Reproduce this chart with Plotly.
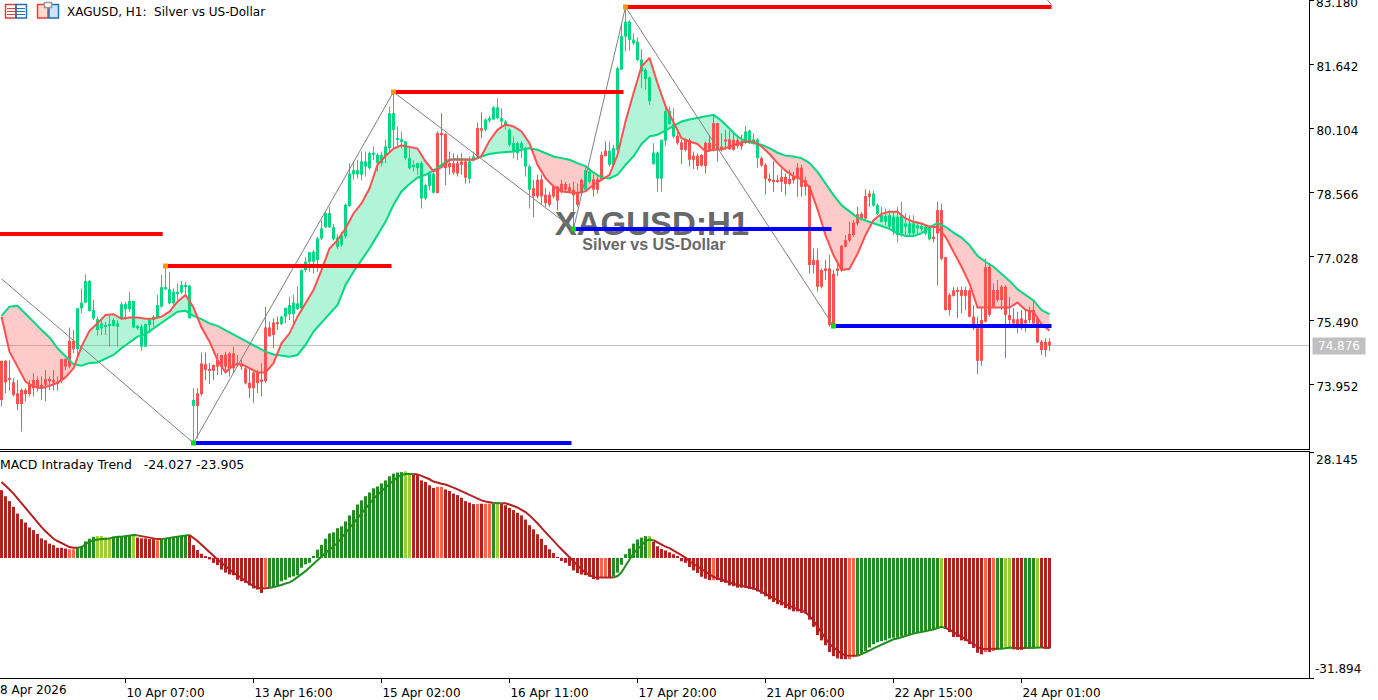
import plotly.graph_objects as go

# chart pixel frame of the terminal window
W, H = 1378, 700
PLOT_R, PLOT_B = 1309, 678
TOP_PANE_B, LOW_PANE_T = 449, 452

tick_idx = [31, 63, 95, 127, 159, 191, 223, 255]
tick_labels = ["10 Apr 07:00", "13 Apr 16:00", "15 Apr 02:00", "16 Apr 11:00",
               "17 Apr 20:00", "21 Apr 06:00", "22 Apr 15:00", "24 Apr 01:00"]
price_ticks = [73.952, 75.490, 77.028, 78.566, 80.104, 81.642, 83.180]
macd_ticks = [-31.894, 28.145]
last_price = 74.876

body_hi = [
    74.51,74.51,74.09,73.99,73.73,73.81,73.81,73.95,74.05,74.05,
    73.93,74.07,74.07,74.05,74.01,74.55,74.55,74.99,74.99,75.77,
    75.91,76.43,76.43,75.73,75.51,75.41,75.37,75.39,75.49,75.41,
    75.87,75.87,75.95,75.95,75.35,75.33,75.39,75.49,75.57,75.85,
    76.28,76.28,76.23,76.17,76.17,76.33,76.33,76.32,73.57,73.73,
    74.45,74.43,74.31,74.41,74.53,74.65,74.66,74.69,74.69,74.45,
    74.43,74.33,73.98,74.23,74.23,74.06,75.31,75.31,75.43,75.44,
    75.57,75.78,75.85,75.91,75.89,76.69,76.89,77.12,77.13,77.45,
    77.69,78.06,78.06,77.72,77.47,77.52,78.26,79.01,79.09,79.09,
    79.30,79.30,79.50,79.51,79.46,79.46,79.66,80.46,80.46,79.86,
    79.83,79.78,79.38,79.22,79.26,79.26,78.73,79.01,79.01,79.98,
    79.98,79.96,79.26,79.26,79.26,79.30,79.30,79.30,79.42,80.10,
    80.10,80.31,80.34,80.60,80.60,80.34,80.26,80.06,79.74,79.74,
    79.74,79.62,79.18,78.66,78.86,78.87,78.50,78.50,78.70,78.70,
    78.76,78.76,78.68,78.62,78.54,78.86,79.09,79.06,78.87,78.87,
    79.46,79.56,79.56,79.62,81.54,82.31,82.66,82.66,82.23,82.18,
    81.75,81.50,81.32,79.51,79.51,79.82,80.51,80.51,80.20,79.92,
    79.76,79.82,79.82,79.44,79.44,79.46,79.75,79.75,80.22,80.22,
    79.66,79.83,79.83,79.82,79.82,79.78,80.02,80.04,79.83,79.83,
    79.38,79.22,78.89,78.85,78.85,78.93,78.93,78.88,78.93,79.15,
    79.15,78.85,78.71,76.93,76.93,76.69,76.73,76.73,76.60,76.73,
    77.27,77.41,77.56,77.83,78.03,78.04,78.47,78.53,78.53,78.25,
    78.01,77.99,78.01,77.97,77.97,78.01,77.81,77.81,77.81,77.77,
    77.75,77.73,77.73,77.49,78.13,78.13,77.00,76.09,76.20,76.20,
    76.21,76.21,76.20,75.57,75.29,75.49,76.76,76.77,76.21,76.21,
    76.29,76.29,75.61,75.51,75.51,75.53,75.49,75.73,75.73,75.53,
    74.97,74.97,74.97]
body_lo = [
    73.57,73.99,74.06,73.69,73.47,73.47,73.71,73.71,73.85,73.85,
    73.90,73.93,74.02,73.99,73.97,74.05,74.37,74.37,74.79,74.79,
    75.77,75.91,75.71,75.53,75.25,75.29,75.33,75.35,75.35,75.33,
    75.53,75.75,75.75,75.31,75.29,74.85,74.85,75.37,75.49,75.55,
    75.81,76.23,75.89,75.89,76.13,76.15,76.29,75.53,73.43,73.42,
    73.71,74.29,74.27,74.27,74.37,74.37,74.37,74.33,74.33,74.41,
    74.37,73.97,73.85,73.85,73.97,74.02,74.02,75.10,75.13,75.39,
    75.39,75.57,75.63,75.63,75.75,75.77,76.69,76.89,76.89,76.93,
    77.45,77.72,77.72,77.43,77.25,77.30,77.50,78.23,78.99,78.99,
    78.98,79.18,79.14,79.46,79.26,79.26,79.43,79.62,80.06,79.82,
    79.79,79.38,79.14,79.16,79.14,78.41,78.41,78.71,78.55,78.54,
    79.94,79.14,79.16,79.03,79.01,79.22,78.91,78.88,79.34,79.42,
    80.04,80.06,80.28,80.31,80.34,80.26,80.22,79.70,79.54,79.50,
    79.62,79.18,78.62,78.46,78.46,78.46,78.30,78.26,78.46,78.36,
    78.58,78.62,78.58,78.49,78.26,78.54,78.62,78.81,78.62,78.62,
    78.87,79.43,79.22,79.22,79.58,81.51,82.30,82.22,82.14,81.74,
    81.46,81.28,80.75,79.24,78.89,78.89,79.80,80.20,79.90,79.74,
    79.58,79.58,79.34,79.34,79.19,79.20,79.19,79.58,79.58,79.58,
    79.58,79.78,79.59,79.58,79.67,79.66,79.75,79.75,79.74,79.38,
    79.20,78.88,78.83,78.81,78.81,78.81,78.76,78.76,78.85,78.89,
    78.69,78.69,76.81,76.81,76.29,76.29,76.67,75.37,75.37,76.69,
    76.69,77.25,77.40,77.53,77.81,77.93,77.93,78.45,78.24,78.04,
    77.85,77.85,77.73,77.61,77.53,77.57,77.73,77.57,77.57,77.69,
    77.67,77.57,77.43,77.45,77.57,76.96,75.73,75.73,76.07,76.17,
    76.07,76.07,75.57,75.29,74.51,74.51,75.45,75.61,75.81,75.97,
    75.97,75.61,75.49,75.41,75.37,75.37,75.41,75.49,75.41,74.95,
    74.77,74.77,74.876]
wick_hi = [
    74.51,74.53,74.53,74.09,74.05,73.85,73.85,74.05,74.21,74.13,
    74.14,74.29,74.13,74.29,74.13,74.55,74.57,75.31,75.25,75.77,
    76.24,76.59,76.45,75.97,75.57,75.49,75.45,75.61,75.53,75.49,
    75.93,75.93,76.17,75.95,75.37,75.39,75.41,75.53,75.61,76.09,
    76.57,76.77,76.65,76.25,76.37,76.43,76.41,76.33,73.85,73.85,
    74.71,74.71,74.46,74.43,74.69,74.65,74.73,74.73,74.85,74.65,
    74.53,74.37,74.33,74.25,74.29,74.45,75.81,75.45,75.53,75.57,
    75.59,75.79,76.05,76.09,76.29,76.71,77.00,77.13,77.17,77.49,
    77.89,78.10,78.20,77.80,77.55,77.60,78.29,79.26,79.30,79.34,
    79.54,79.54,79.54,79.66,79.51,79.54,79.82,80.62,80.96,80.14,
    80.02,79.79,79.62,79.33,79.27,79.30,78.77,79.06,79.03,80.02,
    80.46,79.98,79.54,79.50,79.46,79.50,79.38,79.42,79.54,80.23,
    80.48,80.34,80.39,80.63,80.82,80.58,80.30,80.10,79.90,79.78,
    79.78,79.66,79.22,78.86,78.98,78.98,78.66,78.57,78.73,78.71,
    78.86,78.81,78.77,78.81,78.77,78.89,79.18,79.14,78.98,78.94,
    79.54,79.78,79.78,79.70,81.58,82.62,83.00,82.70,82.38,82.28,
    82.00,81.54,81.34,79.74,79.54,79.83,80.62,80.62,80.58,80.06,
    79.82,79.86,79.86,79.54,79.50,79.48,79.78,79.90,80.42,80.23,
    79.98,80.06,80.04,80.02,79.94,79.94,80.15,80.07,79.98,79.86,
    79.42,79.26,79.01,79.31,78.97,79.13,79.01,79.10,79.05,79.26,
    79.22,78.93,78.73,77.21,77.21,76.73,76.93,77.05,76.69,76.93,
    77.29,77.53,77.85,77.89,78.21,78.09,78.63,78.61,78.60,78.29,
    78.21,78.17,78.13,78.09,78.21,78.33,78.05,78.01,78.01,77.85,
    77.81,77.77,77.77,77.77,78.33,78.29,77.01,76.13,76.28,76.28,
    76.29,76.29,76.25,75.85,75.57,75.81,76.97,76.85,76.37,76.45,
    76.33,76.33,76.05,75.77,75.69,75.73,75.73,75.81,75.97,75.57,
    75.01,75.05,75.05]
wick_lo = [
    73.41,73.73,73.79,73.65,73.33,72.81,73.53,73.65,73.65,73.77,
    73.57,73.54,73.81,73.81,73.79,73.97,74.29,74.33,74.69,74.53,
    75.65,75.89,75.69,75.49,75.11,75.13,75.13,74.85,75.33,74.85,
    75.49,75.49,75.69,75.29,75.25,74.75,74.85,75.17,75.33,75.53,
    75.79,76.21,75.87,75.85,75.97,76.13,76.09,75.53,72.57,72.65,
    73.67,74.05,73.95,74.05,74.17,74.17,74.29,74.13,74.21,74.37,
    74.29,73.94,73.61,73.50,73.73,73.65,73.97,75.09,74.81,75.25,
    75.37,75.41,75.49,75.37,75.73,75.69,76.63,76.65,76.61,76.65,
    77.41,77.70,77.70,77.40,77.20,77.25,77.45,78.21,78.86,78.89,
    78.85,78.94,79.10,79.33,79.06,79.18,79.26,79.54,79.62,79.62,
    79.62,79.33,79.10,79.06,78.98,78.17,78.37,78.61,78.53,78.54,
    79.14,78.73,78.98,78.98,78.94,78.98,78.77,78.77,79.30,79.38,
    79.86,80.02,80.23,80.30,80.31,80.14,80.06,79.66,79.38,79.33,
    79.38,78.94,78.17,77.96,78.41,78.26,78.21,78.21,78.41,78.12,
    78.53,78.57,78.53,77.69,78.21,78.49,78.57,78.77,78.46,78.53,
    78.86,79.42,79.17,79.18,79.54,81.50,81.94,81.96,82.10,81.70,
    81.06,81.03,80.66,79.22,78.57,78.57,79.68,80.18,79.86,79.70,
    79.24,79.54,79.18,79.12,79.10,79.17,79.01,79.54,79.54,79.30,
    79.54,79.58,79.58,79.56,79.62,79.58,79.72,79.72,79.70,79.14,
    79.17,78.51,78.79,78.57,78.79,78.57,78.49,78.74,78.77,78.45,
    78.45,78.49,76.61,76.61,76.17,76.25,76.45,75.33,75.33,76.55,
    76.65,77.24,77.37,77.49,77.77,77.89,77.89,78.21,78.21,78.01,
    77.83,77.77,77.69,77.53,77.35,77.49,77.53,77.49,77.53,77.53,
    77.57,77.53,77.40,77.35,76.32,76.93,75.71,75.60,76.05,75.53,
    75.65,75.73,75.55,75.25,74.19,74.39,75.43,75.57,75.77,75.93,
    75.73,74.57,75.33,75.29,75.17,75.25,75.21,75.41,75.37,74.93,
    74.65,74.61,74.75]

# candle colour follows the trend, as (state, bars)
candle_runs = [("down", 19), ("up", 30), ("down", 21), ("up", 39), ("down", 8), ("up", 2),
               ("down", 2), ("up", 12), ("down", 13), ("up", 2), ("down", 4), ("up", 17),
               ("down", 17), ("up", 4), ("down", 28), ("up", 15), ("down", 30)]

# moving averages, read on every second bar
ma_idx = list(range(0, 263, 2))
ma_fast = [
    75.57,74.73,74.37,74.01,73.89,73.85,73.91,73.98,74.11,74.33,
    74.85,75.23,75.41,75.61,75.63,75.52,75.55,75.55,75.52,75.52,
    75.57,75.69,75.93,76.09,75.79,75.31,74.97,74.53,74.23,74.41,
    74.43,74.33,74.23,74.23,74.45,74.93,75.17,75.57,75.89,76.21,
    76.69,77.21,77.41,77.69,78.05,78.29,78.65,79.22,79.43,79.61,
    79.69,79.65,79.61,79.30,79.06,79.16,79.34,79.34,79.34,79.34,
    79.43,79.80,80.06,80.19,80.14,80.02,79.74,79.22,78.90,78.70,
    78.58,78.56,78.54,78.58,78.74,78.86,78.98,79.46,80.26,80.94,
    81.58,81.79,81.18,80.63,80.26,79.86,79.78,79.72,79.54,79.58,
    79.59,79.66,79.72,79.78,79.78,79.66,79.48,79.26,79.08,78.94,
    78.87,78.69,78.15,77.53,77.05,76.69,76.72,77.08,77.53,77.89,
    78.04,78.09,78.09,77.93,77.85,77.81,77.73,77.72,77.49,77.13,
    76.77,76.37,75.79,75.79,75.79,75.79,75.79,75.91,75.73,75.69,
    75.39,75.23]
ma_slow = [
    75.59,75.81,75.83,75.65,75.45,75.25,75.07,74.81,74.63,74.43,
    74.39,74.46,74.47,74.57,74.65,74.81,74.95,75.09,75.15,75.29,
    75.43,75.57,75.69,75.71,75.59,75.51,75.41,75.35,75.25,75.13,
    75.05,74.95,74.83,74.73,74.66,74.63,74.61,74.65,74.89,75.21,
    75.43,75.65,75.85,76.33,76.65,76.93,77.21,77.53,77.85,78.26,
    78.58,78.76,78.91,78.98,79.08,79.22,79.35,79.36,79.35,79.34,
    79.42,79.48,79.51,79.53,79.54,79.58,79.62,79.58,79.50,79.42,
    79.38,79.34,79.26,79.19,79.03,78.92,78.89,78.98,79.22,79.42,
    79.72,79.90,79.94,80.04,80.15,80.26,80.31,80.35,80.38,80.42,
    80.28,80.10,79.90,79.78,79.74,79.70,79.62,79.51,79.44,79.42,
    79.38,79.26,79.05,78.77,78.49,78.25,78.09,77.95,77.88,77.82,
    77.75,77.68,77.57,77.51,77.51,77.57,77.72,77.82,77.73,77.59,
    77.47,77.29,77.03,76.89,76.77,76.60,76.43,76.23,76.09,75.96,
    75.73,75.63]

# zigzag pivots and the levels drawn from them
zigzag_idx = [0, 48, 98, 143, 156, 208, None, 261.5, 262.5]
zigzag_px = [76.48, 72.535, 80.969, 77.677, 83.012, 75.346, None, 83.18, 83.06]
pivot_hi_idx = [41, 98, 156]
pivot_hi_px = [76.788, 80.969, 83.012]
pivot_lo_idx = [48, 143, 208]
pivot_lo_px = [72.535, 77.677, 75.346]
res_start = [-1, 41, 98, 156]
res_end = [40.3, 97.5, 155.5, 262.5]
res_px = [77.557, 76.788, 80.969, 83.012]
sup_start = [48, 143, 208]
sup_end = [142.5, 207.5, 262.5]
sup_px = [72.535, 77.677, 75.346]

macd_hist = [
    18.0,16.4,15.1,13.6,11.8,10.3,9.4,8.1,7.4,6.4,
    5.2,4.7,3.8,3.4,2.7,2.7,2.5,2.3,2.3,2.8,
    3.0,4.4,5.1,5.6,5.8,5.8,5.5,5.3,5.7,5.7,
    5.7,5.9,6.0,5.8,5.4,5.2,5.2,5.0,5.0,4.7,
    5.0,5.3,5.4,5.5,5.7,5.8,6.0,6.0,3.4,2.1,
    1.1,0.4,-0.4,-1.3,-1.9,-3.1,-3.9,-4.4,-4.6,-5.8,
    -6.2,-6.6,-7.3,-8.1,-8.4,-9.3,-7.7,-8.0,-7.7,-7.3,
    -6.2,-5.8,-5.2,-4.9,-4.6,-2.6,-1.7,-1.3,0.3,2.2,
    3.5,5.1,6.5,6.8,7.9,8.4,9.7,11.3,12.7,14.2,
    15.3,16.4,17.4,18.5,19.0,19.8,20.6,21.7,22.4,22.7,
    22.8,23.0,22.1,22.1,22.0,20.6,20.2,19.3,18.6,18.9,
    18.9,18.2,17.8,17.1,16.7,16.0,15.1,14.7,14.3,14.3,
    14.4,14.4,14.4,14.4,14.4,14.4,14.0,13.3,12.7,12.0,
    11.3,10.2,8.7,7.6,6.3,5.1,3.4,2.3,1.3,0.2,
    -0.8,-1.3,-2.1,-3.3,-4.0,-4.4,-4.6,-5.0,-5.6,-5.8,
    -5.3,-5.3,-5.3,-5.0,-3.9,-1.8,1.0,2.5,3.8,4.9,
    5.4,5.8,5.8,4.3,3.1,2.4,2.0,1.5,1.0,0.3,
    -0.9,-1.3,-2.4,-3.3,-4.0,-5.0,-5.5,-5.9,-5.9,-5.9,
    -6.4,-6.6,-7.3,-7.5,-7.9,-7.9,-7.9,-8.2,-8.4,-8.9,
    -9.5,-10.2,-11.0,-11.7,-12.3,-12.6,-13.3,-13.7,-14.2,-14.2,
    -14.6,-14.8,-16.4,-18.3,-20.5,-21.9,-23.2,-25.0,-26.1,-26.7,
    -26.9,-26.9,-26.9,-26.3,-26.0,-25.4,-24.7,-23.8,-22.9,-22.4,
    -22.1,-21.9,-21.4,-21.2,-21.2,-20.8,-20.6,-20.4,-20.1,-19.9,
    -19.7,-19.4,-19.2,-19.0,-18.9,-18.5,-18.8,-19.7,-21.0,-21.0,
    -21.9,-22.1,-22.9,-23.9,-25.2,-25.6,-25.0,-25.0,-24.7,-24.4,
    -24.3,-24.1,-24.1,-24.3,-24.4,-24.4,-24.1,-24.1,-24.1,-23.8,
    -23.9,-24.1,-24.027]
macd_signal = [
    20.2,19.3,18.2,17.1,15.8,14.4,13.1,11.8,10.5,9.4,
    8.2,7.1,6.0,5.1,4.5,3.9,3.4,2.9,2.7,2.7,
    2.9,3.6,4.3,4.7,4.9,5.0,5.0,5.2,5.5,5.6,
    5.6,5.8,5.9,6.1,6.0,5.8,5.5,5.2,5.1,5.0,
    5.0,5.1,5.3,5.5,5.7,5.8,6.0,6.1,5.4,4.5,
    3.5,2.6,1.6,0.6,-0.4,-1.3,-2.2,-3.1,-3.9,-4.6,
    -5.4,-6.1,-6.8,-7.4,-7.9,-8.1,-8.1,-8.0,-7.8,-7.4,
    -7.2,-6.8,-6.5,-5.9,-5.2,-4.3,-3.5,-2.6,-1.7,-0.6,
    0.4,1.3,2.2,3.1,4.0,5.3,6.6,8.0,9.4,10.7,
    12.0,13.3,14.5,15.7,16.8,17.8,18.8,19.7,20.6,21.4,
    22.0,22.3,22.3,22.3,22.2,21.8,21.4,20.9,20.3,19.9,
    19.7,19.5,19.2,18.7,18.2,17.7,17.2,16.7,16.2,15.7,
    15.3,15.0,14.7,14.6,14.5,14.5,14.5,14.2,13.9,13.4,
    12.8,12.2,11.3,10.3,9.2,8.0,6.8,5.6,4.5,3.4,
    2.3,1.2,0.1,-1.0,-2.0,-3.0,-3.9,-4.6,-5.1,-5.2,
    -5.2,-5.2,-5.2,-5.2,-4.8,-3.8,-2.0,-0.4,1.2,2.4,
    3.4,4.5,4.9,4.7,4.1,3.5,3.0,2.6,2.0,1.4,
    0.7,0.1,-0.9,-1.6,-2.2,-3.1,-3.8,-4.4,-5.0,-5.4,
    -5.8,-6.1,-6.6,-6.8,-7.2,-7.4,-7.6,-7.8,-8.1,-8.4,
    -9.0,-9.5,-10.1,-10.7,-11.2,-11.8,-12.3,-12.8,-13.2,-13.6,
    -14.0,-14.4,-15.4,-16.6,-18.3,-19.8,-21.4,-22.8,-23.8,-24.7,
    -25.4,-25.9,-26.0,-26.1,-26.0,-25.6,-25.1,-24.6,-24.0,-23.5,
    -22.9,-22.4,-21.9,-21.6,-21.4,-21.0,-20.7,-20.4,-20.1,-19.9,
    -19.7,-19.4,-19.1,-19.0,-18.6,-18.3,-18.6,-19.0,-19.7,-20.3,
    -21.0,-21.5,-22.1,-22.8,-23.6,-24.2,-24.2,-24.2,-24.2,-24.1,
    -24.1,-24.0,-23.8,-23.9,-24.0,-24.0,-23.9,-23.9,-23.8,-23.7,
    -23.8,-23.9,-23.905]
# histogram state per bar: d strong fall, l weak fall, u strong rise, y weak rise
hist_state = ("d" * 17 + "l" * 2 + "u" * 5 + "y" * 4 + "u" * 5 + "y" + "d" * 5 + "l" + "u" * 7
              + "d" * 19 + "l" + "u" * 34 + "y" * 2 + "d" * 6 + "l" * 2 + "d" * 8 + "l" + "d"
              + "l" * 2 + "u" + "y" + "d" * 25 + "l" * 2 + "d" + "u" * 9 + "y" + "d" * 15 + "l"
              + "d" * 33 + "l" * 2 + "u" * 21 + "y" + "d" * 10 + "l" + "d" + "l" + "u" * 2
              + "y" * 2 + "d" * 3 + "u" * 3 + "y" + "d" * 3)

UP = "#00D97F"
DOWN = "#FF5050"
UP_FILL = "rgba(0,217,127,0.30)"
DOWN_FILL = "rgba(255,80,80,0.30)"
HIST_COLORS = {"d": "#B22222", "l": "#FF6347", "u": "#228B22", "y": "#9ACD32"}
FONT = "DejaVu Sans"


def px_x(x):
    return x / PLOT_R


def px_y(y):
    return 1 - y / PLOT_B


def band_path(top, bot, diff):
    pts = top + bot[::-1]
    path = "M" + " L".join(f"{x},{y}" for x, y in pts) + " Z"
    return dict(type="path", xref="x", yref="y", path=path, layer="below", line_width=0,
                fillcolor=UP_FILL if diff > 0 else DOWN_FILL)


def band_shapes(xs, fast, slow):
    # one filled polygon per stretch between two crossings of the averages
    shapes = []
    top, bot = [(xs[0], fast[0])], [(xs[0], slow[0])]
    for k in range(1, len(xs)):
        d0, d1 = fast[k - 1] - slow[k - 1], fast[k] - slow[k]
        if d0 * d1 < 0:
            t = d0 / (d0 - d1)
            xc = xs[k - 1] + t * (xs[k] - xs[k - 1])
            yc = fast[k - 1] + t * (fast[k] - fast[k - 1])
            top.append((xc, yc))
            bot.append((xc, yc))
            shapes.append(band_path(top, bot, d0))
            top, bot = [(xc, yc)], [(xc, yc)]
        top.append((xs[k], fast[k]))
        bot.append((xs[k], slow[k]))
    shapes.append(band_path(top, bot, fast[-1] - slow[-1]))
    return shapes


def gap_line(starts, ends, values):
    xs, ys = [], []
    for a, b, v in zip(starts, ends, values):
        xs += [a, b, None]
        ys += [v, v, None]
    return xs, ys


def box(x0, y0, x1, y1, line=None, fill=None):
    return dict(type="rect", xref="paper", yref="paper", x0=px_x(x0), x1=px_x(x1), y0=px_y(y0), y1=px_y(y1),
                line=dict(color=line, width=1.5 if line else 0), fillcolor=fill)


def rule(x0, x1, y, color):
    return dict(type="line", xref="paper", yref="paper", x0=px_x(x0), x1=px_x(x1), y0=px_y(y), y1=px_y(y),
                line=dict(color=color, width=1))


fig = go.Figure()

# candles as bars so the 3px bodies and 1px wicks stay on whole pixels
n_bars = len(body_hi)
candle_state = []
for state, bars in candle_runs:
    candle_state += [state] * bars
for state, color in (("up", UP), ("down", DOWN)):
    ids = [i for i in range(n_bars) if candle_state[i] == state]
    fig.add_trace(go.Bar(x=ids, y=[wick_hi[i] - wick_lo[i] for i in ids], base=[wick_lo[i] for i in ids],
                         width=0.25, marker=dict(color=color, line_width=0), xaxis="x", yaxis="y"))
    fig.add_trace(go.Bar(x=ids, y=[body_hi[i] - body_lo[i] for i in ids], base=[body_lo[i] for i in ids],
                         width=0.75, marker=dict(color=color, line_width=0), xaxis="x", yaxis="y"))

fig.add_trace(go.Scatter(x=ma_idx, y=ma_slow, mode="lines", line=dict(color=UP, width=2), xaxis="x", yaxis="y"))
fig.add_trace(go.Scatter(x=ma_idx, y=ma_fast, mode="lines", line=dict(color=DOWN, width=2), xaxis="x", yaxis="y"))

# watermark sits under the levels
fig.add_trace(go.Scatter(x=[162.6], y=[77.74], mode="text", text=["<b>XAGUSD:H1</b>"],
                         textfont=dict(family="Liberation Sans", size=33, color="#686868"), xaxis="x", yaxis="y"))
fig.add_trace(go.Scatter(x=[163.1], y=[77.27], mode="text", text=["<b>Silver vs US-Dollar</b>"],
                         textfont=dict(family="Liberation Sans", size=16, color="#686868"), xaxis="x", yaxis="y"))

fig.add_trace(go.Scatter(x=zigzag_idx, y=zigzag_px, mode="lines", line=dict(color="#808080", width=1),
                         xaxis="x", yaxis="y"))
xs, ys = gap_line(res_start, res_end, res_px)
fig.add_trace(go.Scatter(x=xs, y=ys, mode="lines", line=dict(color="#FF0000", width=4), xaxis="x", yaxis="y"))
xs, ys = gap_line(sup_start, sup_end, sup_px)
fig.add_trace(go.Scatter(x=xs, y=ys, mode="lines", line=dict(color="#0000FF", width=4), xaxis="x", yaxis="y"))
fig.add_trace(go.Scatter(x=pivot_hi_idx, y=pivot_hi_px, mode="markers",
                         marker=dict(symbol="square", size=5, color="#FF9900"), xaxis="x", yaxis="y"))
fig.add_trace(go.Scatter(x=pivot_lo_idx, y=pivot_lo_px, mode="markers",
                         marker=dict(symbol="square", size=5, color="#00E000"), xaxis="x", yaxis="y"))

# MACD pane
fig.add_trace(go.Bar(x=list(range(n_bars)), y=macd_hist, width=0.75,
                     marker=dict(color=[HIST_COLORS[s] for s in hist_state], line_width=0),
                     xaxis="x2", yaxis="y2"))
start = 0
for k in range(1, n_bars + 1):
    rising = k < n_bars and hist_state[k] in "uy"
    if k == n_bars or rising != (hist_state[start] in "uy"):
        color = HIST_COLORS["u"] if hist_state[start] in "uy" else HIST_COLORS["d"]
        end = min(k + 1, n_bars)
        fig.add_trace(go.Scatter(x=list(range(start, end)), y=macd_signal[start:end], mode="lines",
                                 line=dict(color=color, width=2), xaxis="x2", yaxis="y2"))
        start = k

shapes = band_shapes(ma_idx, ma_fast, ma_slow)
shapes.append(dict(type="line", xref="paper", yref="y", x0=0, x1=1, y0=last_price, y1=last_price,
                   layer="below", line=dict(color="#C0C0C0", width=1)))
# the two toolbar icons
shapes += [
    box(5.5, 4.5, 16, 18, line="#E0403A"), box(16, 4.5, 26.5, 18, line="#2272B8"),
    rule(7, 15, 8.5, "#E0403A"), rule(7, 15, 11.5, "#E0403A"), rule(7, 15, 14.5, "#E0403A"),
    rule(17, 25, 8.5, "#2272B8"), rule(17, 25, 11.5, "#2272B8"), rule(17, 25, 14.5, "#2272B8"),
    box(37.5, 4.5, 48, 18, line="#E0403A", fill="#FBDAD3"), box(49, 4.5, 58.5, 18, line="#2272B8", fill="#CFE3F5"),
    box(44.5, 2.5, 51.5, 7.5, line="#9A9A9A", fill="#FFFFFF"),
]

top_px = 83.18
px_per_pt = 0.02403
layout_axis = dict(showgrid=False, zeroline=False, range=[-0.375, 326.875], fixedrange=True)
low_domain = [0, 1 - LOW_PANE_T / PLOT_B]
top_domain = [1 - TOP_PANE_B / PLOT_B, 1]

# the top price label is cut by the window edge, so it goes in as an annotation
price_labels = [f"{v:.3f}" if v != top_px else "" for v in price_ticks]

fig.update_layout(
    width=W, height=H, autosize=False,
    margin=dict(l=0, r=W - PLOT_R, t=0, b=H - PLOT_B, pad=0),
    paper_bgcolor="white", plot_bgcolor="white",
    showlegend=False, hovermode=False, barmode="overlay",
    font=dict(family=FONT, size=12, color="black"),
    shapes=shapes,
    xaxis=dict(layout_axis, anchor="y", showticklabels=False, ticks="", showline=True, linecolor="black",
               linewidth=1),
    xaxis2=dict(layout_axis, anchor="y2", showline=True, mirror=True, linecolor="black", linewidth=1,
                tickmode="array", tickvals=tick_idx, ticktext=tick_labels, ticks="outside", ticklen=4,
                tickcolor="black", tickangle=0, ticklabelshift=40, tickfont=dict(family=FONT, size=12)),
    yaxis=dict(domain=top_domain, anchor="x", side="right", showgrid=False, zeroline=False, fixedrange=True,
               range=[top_px - TOP_PANE_B * px_per_pt, top_px], showline=True, linecolor="black", linewidth=1,
               tickmode="array", tickvals=price_ticks, ticktext=price_labels,
               ticks="outside", ticklen=4, tickcolor="black", ticklabelshift=3,
               tickfont=dict(family=FONT, size=12)),
    yaxis2=dict(domain=low_domain, anchor="x2", side="right", showgrid=False, zeroline=False, fixedrange=True,
                range=macd_ticks, showline=True, linecolor="black", linewidth=1,
                tickmode="array", tickvals=macd_ticks, showticklabels=False,
                ticks="outside", ticklen=4, tickcolor="black"),
    annotations=[
        dict(xref="paper", yref="paper", x=px_x(65), y=px_y(12), xanchor="left", yanchor="middle", showarrow=False,
             text="XAGUSD,\u00a0H1:\u00a0\u00a0Silver\u00a0vs\u00a0US-Dollar"),
        dict(xref="paper", yref="paper", x=px_x(-2), y=px_y(464), xanchor="left", yanchor="middle", showarrow=False,
             font=dict(size=12.5), text="MACD\u00a0Intraday\u00a0Trend\u00a0\u00a0\u00a0-24.027\u00a0-23.905"),
        dict(xref="paper", yref="paper", x=px_x(-2), y=px_y(690), xanchor="left", yanchor="middle", showarrow=False,
             text="8\u00a0Apr\u00a02026"),
        dict(xref="paper", yref="paper", x=px_x(1314), y=px_y(3), xanchor="left", yanchor="middle", showarrow=False,
             text=f"{top_px:.3f}"),
        dict(xref="paper", yref="paper", x=px_x(1314), y=px_y(460), xanchor="left", yanchor="middle", showarrow=False,
             text="28.145"),
        dict(xref="paper", yref="paper", x=px_x(1313), y=px_y(669), xanchor="left", yanchor="middle", showarrow=False,
             text="-31.894"),
        dict(xref="paper", yref="y", x=px_x(1312), y=last_price, xanchor="left", yanchor="middle", showarrow=False,
             text="74.876", bgcolor="#C0C0C0", font=dict(color="white", size=12, family=FONT),
             width=52, height=16, borderpad=0),
    ],
)

fig.write_html("out.html", config=dict(displayModeBar=False), post_script="document.body.style.margin='0';")
